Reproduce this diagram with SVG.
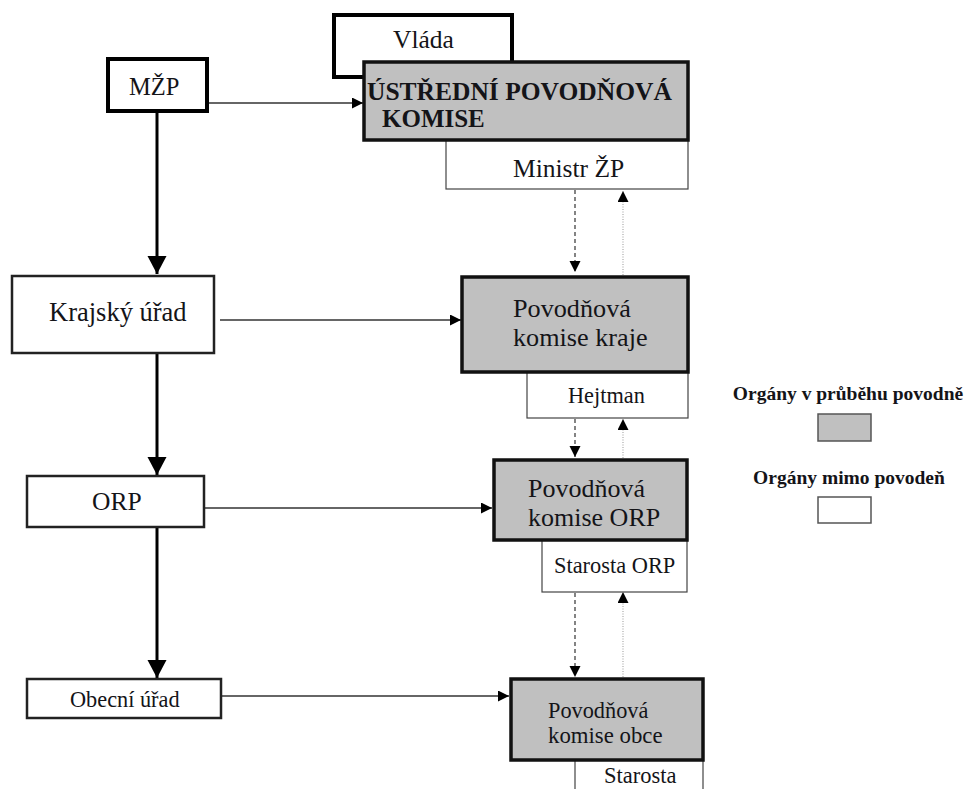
<svg xmlns="http://www.w3.org/2000/svg" width="969" height="789" viewBox="0 0 969 789">
<style>
text{fill:#141418}
.b{font-weight:bold}
.thick{fill:#fff;stroke:#000;stroke-width:4}
.mid{fill:#fff;stroke:#222;stroke-width:2.5}
.gray{fill:#c0c0c0;stroke:#111;stroke-width:3.5}
.thin{fill:#fff;stroke:#444;stroke-width:1.2}
.v{stroke:#000;stroke-width:3;fill:none}
.h{stroke:#333;stroke-width:1.5;fill:none}
.dash{stroke:#333;stroke-width:1.2;stroke-dasharray:4 3;fill:none}
.dot{stroke:#aaa;stroke-width:1.2;stroke-dasharray:1 1.5;fill:none}
</style>
<defs>
<marker id="big" markerUnits="userSpaceOnUse" markerWidth="18" markerHeight="20" refX="18" refY="9.5" orient="auto"><path d="M0,0 L18,9.5 L0,19 Z" fill="#000"/></marker>
<marker id="sm" markerUnits="userSpaceOnUse" markerWidth="12" markerHeight="12" refX="11" refY="5.5" orient="auto"><path d="M0,0 L11,5.5 L0,11 Z" fill="#000"/></marker>
</defs>
<rect width="969" height="789" fill="#fff"/>
<g id="connectors">
<line class="v" x1="157" y1="111" x2="157" y2="274" marker-end="url(#big)"/>
<line class="v" x1="157" y1="353" x2="157" y2="475" marker-end="url(#big)"/>
<line class="v" x1="157" y1="527" x2="157" y2="678" marker-end="url(#big)"/>
<line class="h" x1="207" y1="103" x2="363" y2="103" marker-end="url(#sm)"/>
<line class="h" x1="220" y1="320" x2="461" y2="320" marker-end="url(#sm)"/>
<line class="h" x1="204" y1="508" x2="492" y2="508" marker-end="url(#sm)"/>
<line class="h" x1="221" y1="696" x2="509" y2="696" marker-end="url(#sm)"/>
<line class="dash" x1="575" y1="190" x2="575" y2="272" marker-end="url(#sm)"/>
<line class="dot" x1="623" y1="275" x2="623" y2="191" marker-end="url(#sm)"/>
<line class="dash" x1="575" y1="419" x2="575" y2="457" marker-end="url(#sm)"/>
<line class="dot" x1="623" y1="458" x2="623" y2="419" marker-end="url(#sm)"/>
<line class="dash" x1="575" y1="593" x2="575" y2="677" marker-end="url(#sm)"/>
<line class="dot" x1="623" y1="677" x2="623" y2="592" marker-end="url(#sm)"/>
</g>
<g id="vlada">
<rect class="thick" x="334" y="15" width="178" height="62"/>
<text x="393" y="48" font-size="25.5" font-family="Liberation Serif">Vláda</text>
</g>
<g id="ministr-zp">
<rect class="thin" x="446" y="140" width="242" height="49"/>
<text x="513" y="177" font-size="25.5" font-family="Liberation Serif">Ministr ŽP</text>
</g>
<g id="ustredni">
<rect class="gray" x="364" y="62" width="324" height="78"/>
<text class="b" x="367" y="100" font-size="25.5" font-family="Liberation Serif">ÚSTŘEDNÍ POVODŇOVÁ</text>
<text class="b" x="382" y="127" font-size="25" font-family="Liberation Serif">KOMISE</text>
</g>
<g id="mzp">
<rect class="thick" x="108" y="59" width="99" height="52"/>
<text x="129" y="95" font-size="24.5" font-family="Liberation Serif">MŽP</text>
</g>
<g id="krajsky-urad">
<rect class="mid" x="12" y="276" width="202" height="77"/>
<text x="49" y="321" font-size="26.5" font-family="Liberation Serif">Krajský úřad</text>
</g>
<g id="hejtman">
<rect class="thin" x="527" y="372" width="161" height="46"/>
<text x="568" y="403" font-size="22.3" font-family="Liberation Serif">Hejtman</text>
</g>
<g id="komise-kraje">
<rect class="gray" x="462" y="277" width="226" height="95"/>
<text x="513" y="317" font-size="26.2" font-family="Liberation Serif">Povodňová</text>
<text x="513" y="346" font-size="26.2" font-family="Liberation Serif">komise kraje</text>
</g>
<g id="orp">
<rect class="mid" x="27" y="476" width="177" height="51"/>
<text x="92" y="510" font-size="25.5" font-family="Liberation Serif">ORP</text>
</g>
<g id="starosta-orp">
<rect class="thin" x="542" y="540" width="145" height="52"/>
<text x="554" y="573" font-size="22.4" font-family="Liberation Serif">Starosta ORP</text>
</g>
<g id="komise-orp">
<rect class="gray" x="494" y="460" width="193" height="80"/>
<text x="528" y="497" font-size="26" font-family="Liberation Serif">Povodňová</text>
<text x="528" y="526" font-size="26" font-family="Liberation Serif">komise ORP</text>
</g>
<g id="obecni-urad">
<rect class="mid" x="27" y="679" width="194" height="39"/>
<text x="70" y="707" font-size="22.3" font-family="Liberation Serif">Obecní úřad</text>
</g>
<g id="starosta">
<rect class="thin" x="575" y="760" width="128" height="40"/>
<text x="604" y="783" font-size="22.5" font-family="Liberation Serif">Starosta</text>
</g>
<g id="komise-obce">
<rect class="gray" x="511" y="679" width="192" height="81"/>
<text x="548" y="718" font-size="22.3" font-family="Liberation Serif">Povodňová</text>
<text x="548" y="743" font-size="22.8" font-family="Liberation Serif">komise obce</text>
</g>
<g id="legend">
<text class="b" x="848" y="400" font-size="19.5" text-anchor="middle" font-family="Liberation Serif">Orgány v průběhu povodně</text>
<rect x="818" y="414" width="53" height="27" fill="#c0c0c0" stroke="#555" stroke-width="1.5"/>
<text class="b" x="849" y="484" font-size="19.5" text-anchor="middle" font-family="Liberation Serif">Orgány mimo povodeň</text>
<rect x="818" y="497" width="53" height="26" fill="#fff" stroke="#555" stroke-width="1.5"/>
</g>
</svg>
